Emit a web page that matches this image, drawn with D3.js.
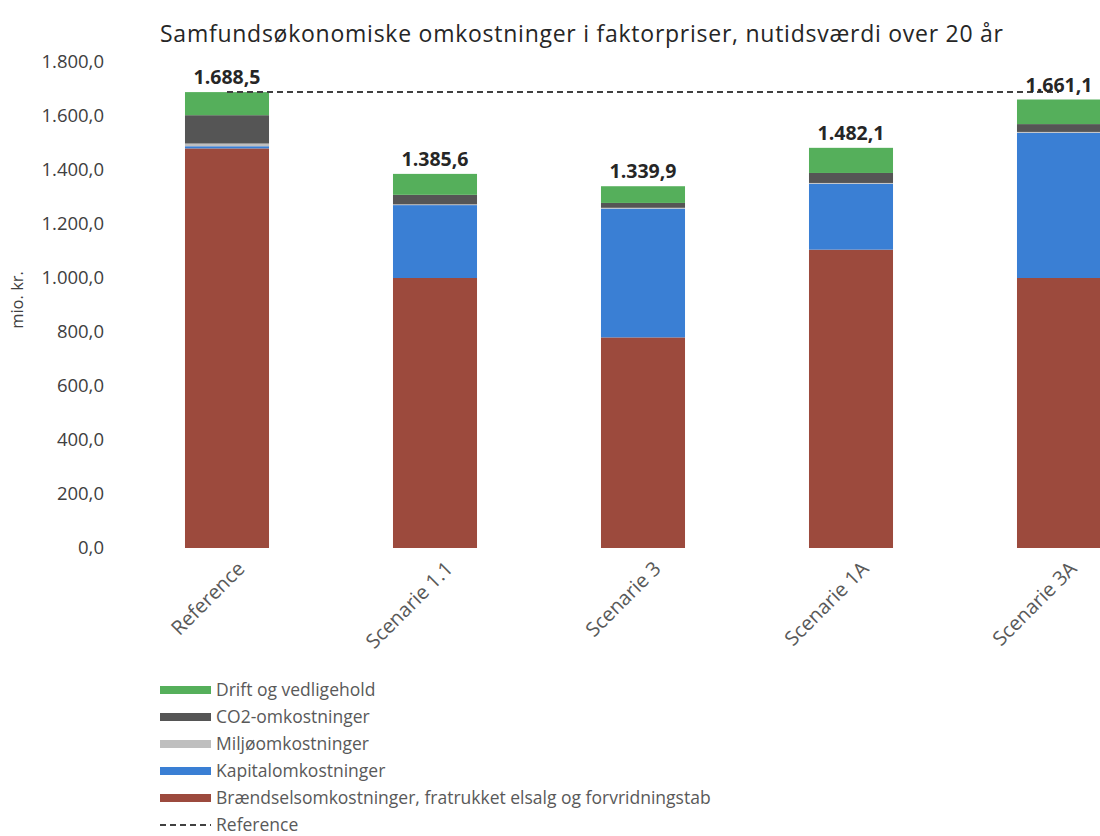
<!DOCTYPE html>
<html>
<head>
<meta charset="utf-8">
<script src="https://cdn.jsdelivr.net/npm/d3@7"></script>
<style>
  body { margin: 0; background: #fff; }
  svg { font-family: 'Open Sans', sans-serif; }
</style>
</head>
<body>
<div id="vis"></div>
<script>
var categories = ['Reference', 'Scenarie 1.1', 'Scenarie 3', 'Scenarie 1A', 'Scenarie 3A'];

// stacked from bottom to top
var seriesNames = ['Brændselsomkostninger, fratrukket elsalg og forvridningstab',
  'Kapitalomkostninger', 'Miljøomkostninger', 'CO2-omkostninger', 'Drift og vedligehold'];
var braendsel = [1480, 1000, 780, 1105, 1000];
var kapital = [8, 270, 477, 244, 538];
var miljoe = [10, 3, 3, 3, 3];
var co2 = [105, 35, 18, 37, 29];
var drift = [85.5, 77.6, 61.9, 93.1, 91.1];
var totals = ['1.688,5', '1.385,6', '1.339,9', '1.482,1', '1.661,1'];
var referenceValue = 1688.5;

var yTicks = [0, 200, 400, 600, 800, 1000, 1200, 1400, 1600, 1800];
var colors = ['#9c4a3d', '#3a7fd4', '#bfbfbf', '#555555', '#55af5b'];

var width = 1100, height = 836;

var svg = d3.select('#vis').append('svg')
  .attr('width', width)
  .attr('height', height);

var x = d3.scaleBand().domain(categories).range([123, 1163]).paddingInner(0.596).paddingOuter(0.298);
var y = d3.scaleLinear().domain([0, 1800]).range([548, 62]);

var rows = categories.map(function (c, i) {
  return { cat: c, b: braendsel[i], k: kapital[i], m: miljoe[i], c: co2[i], d: drift[i] };
});
var stack = d3.stack().keys(['b', 'k', 'm', 'c', 'd']);
var layers = stack(rows);

// title
svg.append('text')
  .attr('x', 160).attr('y', 42)
  .attr('font-size', 23)
  .attr('textLength', 843)
  .attr('lengthAdjust', 'spacing')
  .attr('fill', '#262626')
  .text('Samfundsøkonomiske omkostninger i faktorpriser, nutidsværdi over 20 år');

// y axis
var yAxis = svg.append('g')
  .attr('transform', 'translate(104,0)')
  .call(d3.axisLeft(y).tickValues(yTicks).tickSize(0).tickPadding(0)
    .tickFormat(function (d) { return d3.format(',.1f')(d).replace(/,/g, '#').replace('.', ',').replace(/#/g, '.'); }));
yAxis.select('.domain').remove();
yAxis.selectAll('text')
  .attr('font-size', 18.5)
  .attr('fill', '#404040')
  .attr('font-family', "'Open Sans', sans-serif");

svg.append('text')
  .attr('transform', 'translate(23,' + 300 + ') rotate(-90)')
  .attr('text-anchor', 'middle')
  .attr('font-size', 16.5)
  .attr('fill', '#404040')
  .text('mio. kr.');

// bars
svg.append('g').selectAll('g')
  .data(layers)
  .join('g')
  .attr('fill', function (d, i) { return colors[i]; })
  .selectAll('rect')
  .data(function (d) { return d; })
  .join('rect')
  .attr('x', function (d) { return x(d.data.cat); })
  .attr('width', x.bandwidth())
  .attr('y', function (d) { return y(d[1]); })
  .attr('height', function (d) { return y(d[0]) - y(d[1]); });

// reference dashed line
svg.append('line')
  .attr('x1', x(categories[0]) + x.bandwidth() / 2)
  .attr('x2', x(categories[categories.length - 1]) + x.bandwidth() / 2)
  .attr('y1', y(referenceValue))
  .attr('y2', y(referenceValue))
  .attr('stroke', '#404040')
  .attr('stroke-width', 2)
  .attr('stroke-dasharray', '6,4');

// total labels
svg.append('g').selectAll('text')
  .data(categories)
  .join('text')
  .attr('x', function (d) { return x(d) + x.bandwidth() / 2; })
  .attr('y', function (d, i) { return y(layers[4][i][1]) - 8; })
  .attr('text-anchor', 'middle')
  .attr('font-size', 19.5)
  .attr('font-weight', 'bold')
  .attr('fill', '#262626')
  .text(function (d, i) { return totals[i]; });

// x labels
svg.append('g').selectAll('text')
  .data(categories)
  .join('text')
  .attr('transform', function (d) {
    return 'translate(' + (x(d) + x.bandwidth() / 2 + 19) + ',570) rotate(-45)';
  })
  .attr('text-anchor', 'end')
  .attr('font-size', 20)
  .attr('fill', '#595959')
  .text(function (d) { return d; });

// legend
var legendItems = ['Drift og vedligehold', 'CO2-omkostninger', 'Miljøomkostninger',
  'Kapitalomkostninger', 'Brændselsomkostninger, fratrukket elsalg og forvridningstab', 'Reference'];
var legendColors = [colors[4], colors[3], colors[2], colors[1], colors[0], null];

var legend = svg.append('g').attr('transform', 'translate(160,690)');
var li = legend.selectAll('g')
  .data(legendItems)
  .join('g')
  .attr('transform', function (d, i) { return 'translate(0,' + i * 27 + ')'; });

li.each(function (d, i) {
  var g = d3.select(this);
  if (legendColors[i]) {
    g.append('rect').attr('x', 0).attr('y', -4).attr('width', 51).attr('height', 8)
      .attr('fill', legendColors[i]);
  } else {
    g.append('line').attr('x1', 0).attr('x2', 51).attr('y1', 0).attr('y2', 0)
      .attr('stroke', '#404040').attr('stroke-width', 2).attr('stroke-dasharray', '6,4');
  }
  g.append('text').attr('x', 56).attr('y', 5.5)
    .attr('font-size', 17.5)
    .attr('fill', '#595959')
    .text(d);
});
</script>
</body>
</html>
